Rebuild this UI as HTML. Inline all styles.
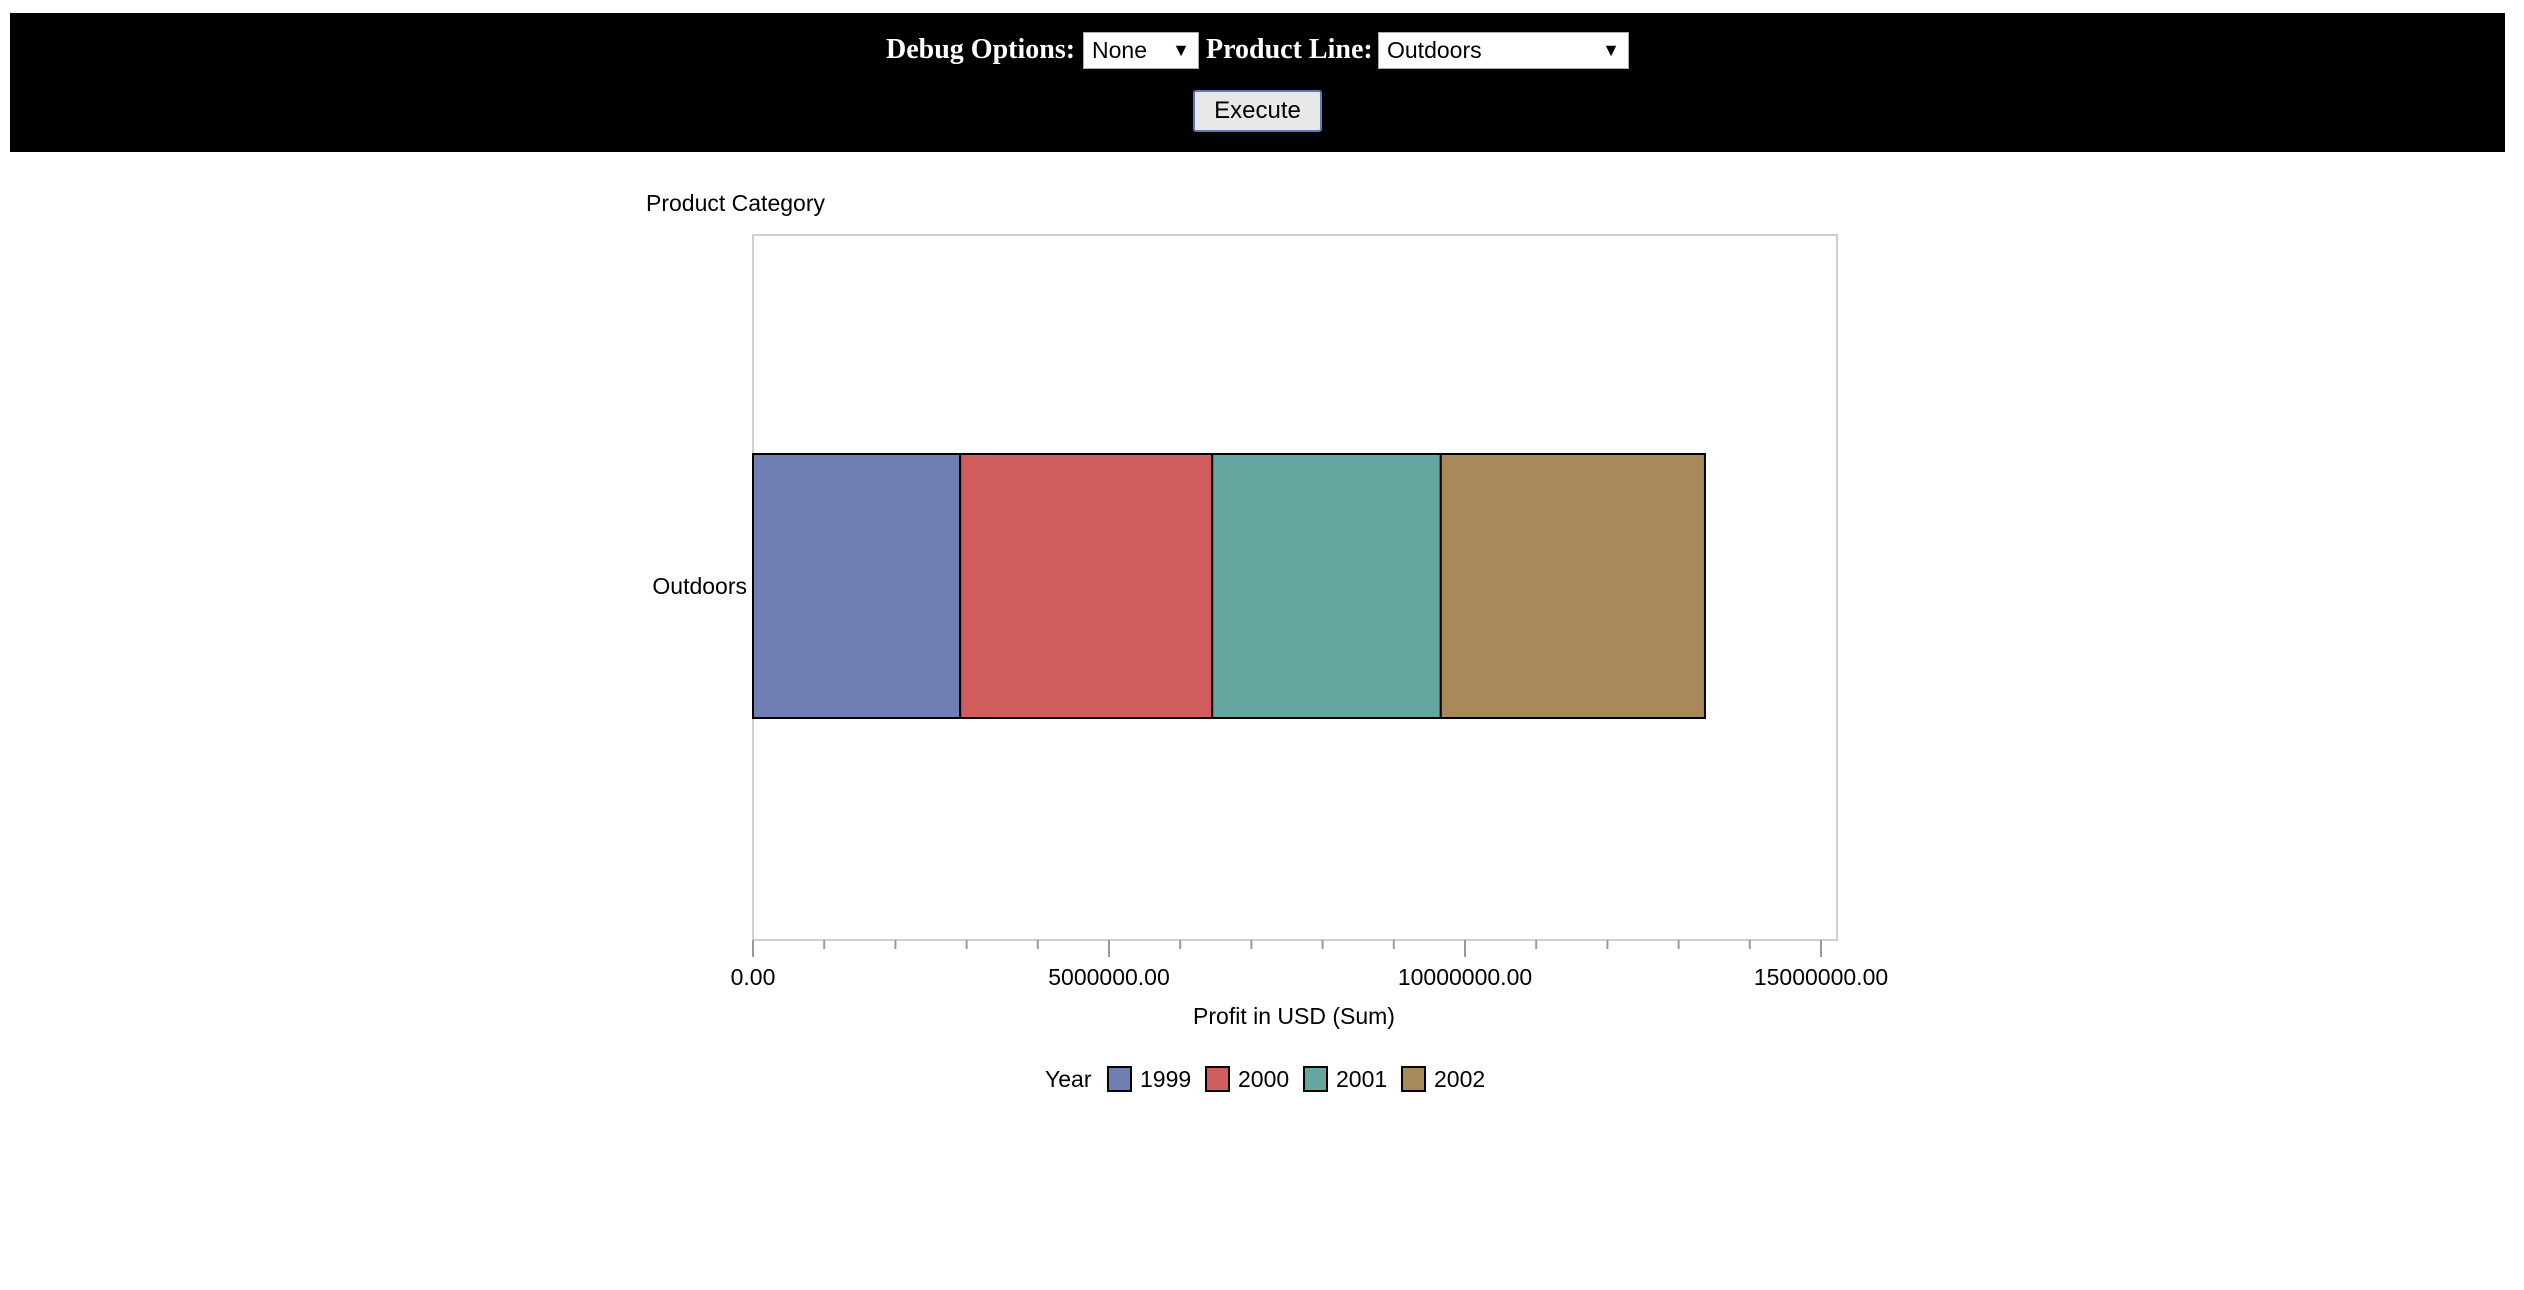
<!DOCTYPE html>
<html><head><meta charset="utf-8">
<style>
html,body{margin:0;padding:0;background:#fff;width:2524px;height:1290px;overflow:hidden;font-family:"Liberation Sans",sans-serif;}
#hdr{position:absolute;left:10px;top:13px;width:2495px;height:139px;background:#000;}
.lbl{position:absolute;color:#fff;font-family:"Liberation Serif",serif;font-weight:bold;font-size:28px;top:34px;}
.sel{position:absolute;background:#fff;border:1px solid #aaa;box-sizing:border-box;font-size:23px;color:#000;padding-left:8px;line-height:34px;}
.sel span{position:absolute;right:8px;top:0;font-size:18px;}
#exec{position:absolute;left:1193px;top:90px;width:129px;height:42px;background:#e8e8e8;border:2px solid #5a7ab8;box-sizing:border-box;font-size:24px;text-align:center;line-height:38px;border-radius:3px;}
</style></head><body>
<div id="hdr"></div>
<div class="lbl" style="left:886px">Debug Options:</div>
<div class="sel" style="left:1083px;top:32px;width:116px;height:37px">None<span>▼</span></div>
<div class="lbl" style="left:1206px">Product Line:</div>
<div class="sel" style="left:1378px;top:32px;width:251px;height:37px">Outdoors<span>▼</span></div>
<div id="exec">Execute</div>
<svg id="chart" width="2524" height="1290" style="position:absolute;left:0;top:0"></svg>
<script>
const categories=["Outdoors"];
const years=["1999","2000","2001","2002"];
const values=[2910000,3540000,3210000,3710000];
const colors=["#6f7fb3","#d15c5c","#66a6a0","#a9885a"];
const tickValues=[0,5000000,10000000,15000000];
const tickLabels=["0.00","5000000.00","10000000.00","15000000.00"];
const NS="http://www.w3.org/2000/svg";
const svg=document.getElementById('chart');
const x0=753,pxPerUnit=71.2/1e6;
const xs=v=>x0+v*pxPerUnit;
const plotTop=235,plotBot=940,plotRight=1837;
function el(t,a,txt){const e=document.createElementNS(NS,t);for(const k in a)e.setAttribute(k,a[k]);if(txt!=null)e.textContent=txt;svg.appendChild(e);return e;}
let e;
e=el('rect',{x:x0,y:plotTop,width:plotRight-x0,height:plotBot-plotTop,fill:'#fff',stroke:'#cfcfcf','stroke-width':2});


e=el('text',{x:646,y:211,'font-size':23,fill:'#000'},'Product Category');


const barTop=454,barBot=718;
let acc=0;
values.forEach((v,i)=>{
  const r=el('rect',{x:xs(acc),y:barTop,width:xs(acc+v)-xs(acc),height:barBot-barTop,fill:colors[i],stroke:'#000','stroke-width':2});
  
  
  acc+=v;
});
e=el('text',{x:747,y:594,'font-size':23,'text-anchor':'end'},categories[0]);


const maxV=tickValues[tickValues.length-1];
for(let v=0;v<=maxV;v+=1000000){
  const major=v%5000000===0;
  const l=el('line',{x1:xs(v),x2:xs(v),y1:plotBot,y2:major?957:949,stroke:'#999','stroke-width':2});
  
  
}
tickValues.forEach((v,i)=>{
  const t=el('text',{x:xs(v),y:985,'font-size':23,'text-anchor':'middle'},tickLabels[i]);
  
  
});
e=el('text',{x:1294,y:1024,'font-size':23,'text-anchor':'middle'},'Profit in USD (Sum)');


e=el('text',{x:1045,y:1087,'font-size':23},'Year');


const legX=[1108,1206,1304,1402];
years.forEach((y,i)=>{
  const r=el('rect',{x:legX[i],y:1067,width:23,height:24,fill:colors[i],stroke:'#000','stroke-width':2});
  
  
  const t=el('text',{x:legX[i]+32,y:1087,'font-size':23},y);
  
  
});
</script>
</body></html>
